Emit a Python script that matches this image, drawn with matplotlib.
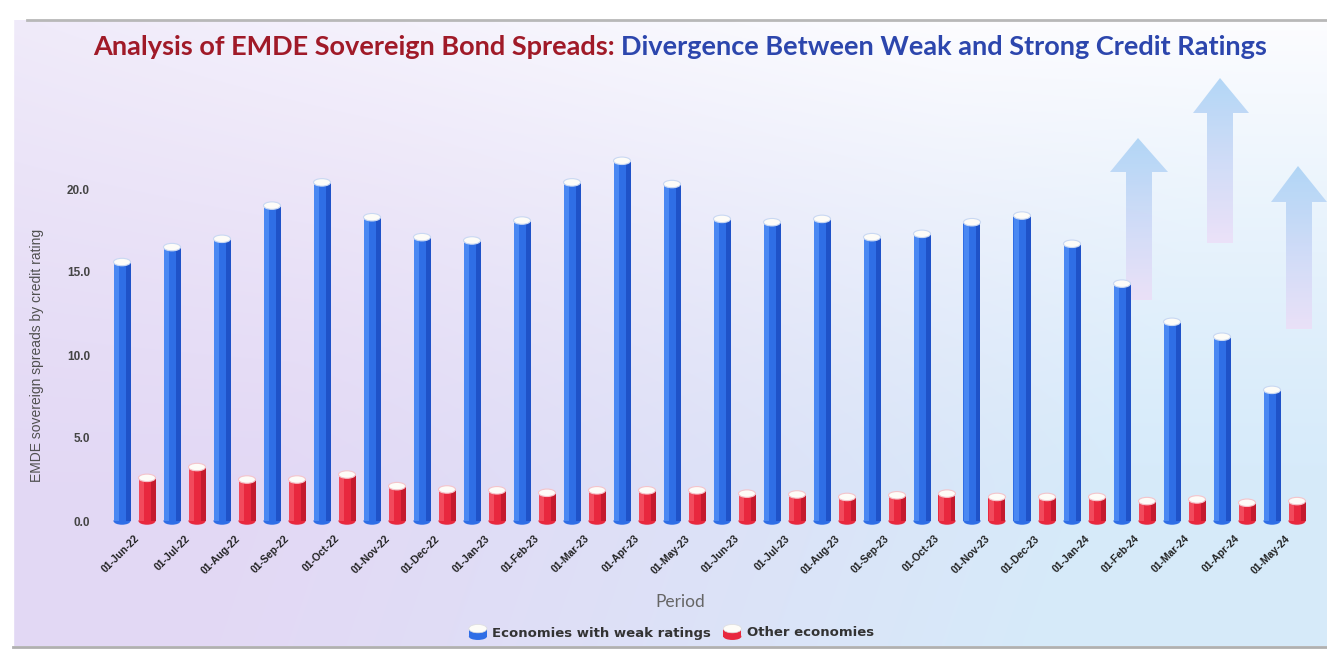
import matplotlib
matplotlib.use("Agg")
import matplotlib.pyplot as plt
import numpy as np
from matplotlib.patches import Ellipse, Polygon, Rectangle
from matplotlib.legend_handler import HandlerPatch

periods = ["01-Jun-22", "01-Jul-22", "01-Aug-22", "01-Sep-22", "01-Oct-22", "01-Nov-22",
           "01-Dec-22", "01-Jan-23", "01-Feb-23", "01-Mar-23", "01-Apr-23", "01-May-23",
           "01-Jun-23", "01-Jul-23", "01-Aug-23", "01-Sep-23", "01-Oct-23", "01-Nov-23",
           "01-Dec-23", "01-Jan-24", "01-Feb-24", "01-Mar-24", "01-Apr-24", "01-May-24"]
weak = [15.6, 16.5, 17.0, 19.0, 20.4, 18.3, 17.1, 16.9, 18.1, 20.4, 21.7, 20.3,
        18.2, 18.0, 18.2, 17.1, 17.3, 18.0, 18.4, 16.7, 14.3, 12.0, 11.1, 7.9]
other = [2.6, 3.25, 2.5, 2.5, 2.8, 2.1, 1.9, 1.85, 1.7, 1.85, 1.85, 1.85,
         1.65, 1.6, 1.45, 1.55, 1.65, 1.45, 1.45, 1.45, 1.2, 1.3, 1.1, 1.2]
yticks = [0, 5, 10, 15, 20]

W, H = 1327, 649
fig = plt.figure(figsize=(W / 100, H / 100), dpi=100)

# ---- background (pixel coordinates) ----
bg = fig.add_axes([0, 0, 1, 1], zorder=-5)
bg.set_xlim(0, W)
bg.set_ylim(H, 0)
bg.axis("off")

xs = np.linspace(0, 1, 300)
ys = np.linspace(0, 1, 150)
gx, gy = np.meshgrid(xs, ys)
lav = np.array([0.89, 0.85, 0.96])
blu = np.array([0.84, 0.92, 0.98])
wht = np.array([0.99, 0.99, 1.0])
tx = (np.clip((gx - 0.3) / 0.65 + 0.25 * gy, 0, 1) ** 1.2)[..., None]
base = lav * (1 - tx) + blu * tx
wv = np.clip(1 - gy / 0.75, 0, 1) ** 1.3
wv = wv * (0.5 + 0.5 * np.clip(gx * 1.4, 0, 1))
img = base * (1 - wv[..., None]) + wht * wv[..., None]
bg.imshow(img, extent=[13, W, H - 3, 20], aspect="auto", zorder=0, interpolation="bilinear")
bg.add_patch(Rectangle((0, 0), 13, H, color="white", zorder=1))
bg.plot([27, W], [20, 20], color="#b8b8b8", lw=2, zorder=2)
bg.plot([13, W], [H - 2, H - 2], color="#b0b0b0", lw=2, zorder=2)

# decorative arrows with gradient fill
arrows = [(1138, 138, 172, 1110, 1168, 1126, 1152, 300),
          (1220, 78, 113, 1193, 1249, 1207, 1233, 243),
          (1298, 166, 202, 1271, 1327, 1286, 1312, 329)]
top_c = np.array([0.64, 0.81, 0.96])
bot_c = np.array([0.93, 0.87, 0.97])
for tip_x, tip_y, hb, hl, hr, sl, sr, bot in arrows:
    poly = Polygon([(tip_x, tip_y), (hr, hb), (sr, hb), (sr, bot), (sl, bot), (sl, hb), (hl, hb)],
                   closed=True, facecolor="none", edgecolor="none")
    bg.add_patch(poly)
    t = np.linspace(0, 1, 100)[:, None, None]
    grad = top_c * (1 - t) + bot_c * t
    grad = np.repeat(grad, 2, axis=1)
    im = bg.imshow(grad, extent=[hl, hr, bot, tip_y], aspect="auto", zorder=1, alpha=0.8)
    im.set_clip_path(poly)

# ---- title in two colours ----
fig.canvas.draw()
r = fig.canvas.get_renderer()
t1 = fig.text(0, 0, "Analysis of EMDE Sovereign Bond Spreads: ", fontsize=19.5,
              fontweight="bold", family="Lato", color="#a01a28")
t2 = fig.text(0, 0, "Divergence Between Weak and Strong Credit Ratings", fontsize=19.5,
              fontweight="bold", family="Lato", color="#2c46ad")
w1 = t1.get_window_extent(r).width
w2 = t2.get_window_extent(r).width
x0 = 680 - (w1 + w2) / 2
ty = 1 - 47 / H
t1.set_position((x0 / W, ty))
t2.set_position(((x0 + w1) / W, ty))
t1.set_va("center")
t2.set_va("center")

# ---- main chart ----
ax = fig.add_axes([109.5 / W, (H - 521) / H, 1200 / W, 373.5 / H])
ax.set_facecolor("none")
ax.set_xlim(-0.5, len(periods) - 0.5)
ax.set_ylim(0, 22.5)
for s in ax.spines.values():
    s.set_visible(False)

x = np.arange(len(periods))
bw = 0.34
off = 0.25
cap_h = 0.45


def cylinders(xc, vals, base, light, dark, cap_edge):
    ax.bar(xc, vals, bw, color=base, zorder=3)
    ax.bar(xc - bw * 0.3, vals, bw * 0.3, color=light, zorder=3.1)
    ax.bar(xc + bw * 0.36, vals, bw * 0.28, color=dark, zorder=3.1)
    for xi, v in zip(xc, vals):
        ax.add_patch(Ellipse((xi, 0), bw, cap_h, facecolor=base, edgecolor="none",
                             zorder=2.9, clip_on=False))
        ax.add_patch(Ellipse((xi, v), bw, cap_h, facecolor="#fdfcf8", edgecolor=cap_edge,
                             lw=0.8, zorder=3.5, clip_on=False))


cylinders(x - off, weak, "#2f6ee6", "#4a88f2", "#1f52c8", "#c9d8f2")
cylinders(x + off, other, "#e8283e", "#f24a5c", "#c41a2e", "#f4c4cb")

ax.set_xticks(x)
ax.set_xticklabels(periods, rotation=45, ha="right", rotation_mode="anchor",
                   fontsize=7.5, fontweight="bold", family="Liberation Sans", color="#222222")
ax.set_yticks(yticks)
ax.set_yticklabels([f"{v:.1f}" for v in yticks], fontsize=8.5, fontweight="bold",
                   family="Liberation Sans", color="#444444")
ax.tick_params(axis="both", length=0)
ax.tick_params(axis="y", pad=14)
ax.tick_params(axis="x", pad=9)

fig.text(37 / W, 1 - 355 / H, "EMDE sovereign spreads by credit rating", rotation=90,
         ha="center", va="center", fontsize=10, color="#505050", family="Liberation Sans")
fig.text(680 / W, 1 - 602 / H, "Period", ha="center", va="center", fontsize=12.5,
         color="#666666", family="Lato")


class CylHandler(HandlerPatch):
    def create_artists(self, legend, orig_handle, xd, yd, width, height, fontsize, trans):
        c = orig_handle.get_facecolor()
        w = 13
        cx = xd + width / 2
        body = Rectangle((cx - w / 2, yd), w, height * 0.85, facecolor=c, edgecolor="none",
                         transform=trans)
        bot = Ellipse((cx, yd), w, 5, facecolor=c, edgecolor="none", transform=trans)
        cap = Ellipse((cx, yd + height * 0.85), w, 6, facecolor="#fdfcf8",
                      edgecolor="#dddddd", lw=0.5, transform=trans)
        return [bot, body, cap]


h1 = Rectangle((0, 0), 1, 1, facecolor="#2f6ee6", label="Economies with weak ratings")
h2 = Rectangle((0, 0), 1, 1, facecolor="#e8283e", label="Other economies")
fig.legend(handles=[h1, h2], loc="center", bbox_to_anchor=(672 / W, 1 - 633 / H),
           ncol=2, frameon=False, handler_map={Rectangle: CylHandler()},
           prop={"family": "DejaVu Sans", "weight": "bold", "size": 9.5},
           labelcolor="#333333", handlelength=1.2, columnspacing=1.0, handletextpad=0.5)

fig.savefig("out.png", dpi=100)
